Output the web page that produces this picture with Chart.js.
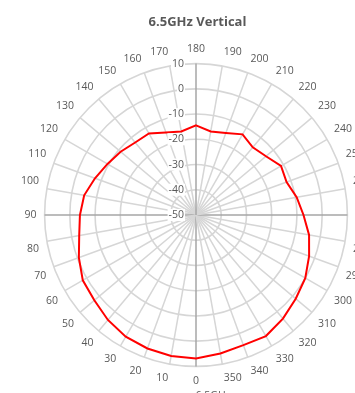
<!DOCTYPE html>
<html>
<head>
<meta charset="utf-8">
<script src="https://cdn.jsdelivr.net/npm/chart.js@4/dist/chart.umd.min.js"></script>
<style>
  html, body { margin: 0; padding: 0; background: #fff; overflow: hidden; }
  #wrap { position: absolute; left: 0; top: 0; width: 395px; height: 411px; }
</style>
</head>
<body>
<div id="wrap"><canvas id="polar" width="395" height="411"></canvas></div>
<script>
// angles, clockwise from the top
const angleLabels = ['180', '190', '200', '210', '220', '230', '240', '250', '260',
  '270', '280', '290', '300', '310', '320', '330', '340', '350',
  '0', '10', '20', '30', '40', '50', '60', '70', '80',
  '90', '100', '110', '120', '130', '140', '150', '160', '170'];

// gain (dB), same order as angleLabels
const gainValues = [-14.5, -16.4, -15.4, -13.1, -15.0, -13.8, -11.1, -11.8, -9.5,
  -7.4, -4.5, -2.3, 0.0, 1.6, 3.6, 5.4, 4.9, 5.7,
  6.9, 6.7, 6.3, 5.7, 4.3, 2.6, 1.8, -0.6, -3.0,
  -4.0, -5.0, -7.4, -9.5, -11.0, -12.5, -12.7, -15.2, -16.4];

const scaleMin = -50;
const scaleMax = 10;
const scaleStep = 10;

const seriesName = '6.5GHz';
const chartTitle = '6.5GHz Vertical';

const textGrey = '#595959';
const labelFont = { family: 'Open Sans', size: 10.5, weight: '500' };

// value axis labels, drawn left of the vertical axis like Excel does
const tickLabels = {
  id: 'tickLabels',
  afterDraw(chart) {
    const r = chart.scales.r;
    const ctx = chart.ctx;
    ctx.save();
    ctx.font = '500 10.5px "Open Sans"';
    ctx.textAlign = 'right';
    ctx.textBaseline = 'middle';
    r.ticks.forEach(t => {
      const y = r.yCenter - r.getDistanceFromCenterForValue(t.value);
      const x = r.xCenter - 12;
      const w = ctx.measureText(String(t.value)).width;
      ctx.fillStyle = '#fff';
      ctx.fillRect(x - w - 1, y - 6, w + 2, 12);
      ctx.fillStyle = textGrey;
      ctx.fillText(String(t.value), x, y);
    });
    ctx.restore();
  }
};

new Chart(document.getElementById('polar'), {
  type: 'radar',
  data: {
    labels: angleLabels,
    datasets: [{
      label: seriesName,
      data: gainValues,
      borderColor: '#ff0000',
      backgroundColor: '#ff0000',
      borderWidth: 2,
      pointRadius: 0,
      fill: false,
      tension: 0
    }]
  },
  options: {
    responsive: false,
    devicePixelRatio: 1,
    animation: false,
    layout: { padding: { top: 4 } },
    plugins: {
      title: {
        display: true,
        text: chartTitle,
        color: textGrey,
        font: { family: 'Open Sans', size: 13, weight: 'bold' },
        padding: { top: 10, bottom: 13.4 }
      },
      legend: {
        position: 'bottom',
        labels: {
          usePointStyle: true,
          pointStyle: 'line',
          pointStyleWidth: 26,
          color: textGrey,
          font: labelFont,
          padding: 3
        }
      },
      tooltip: { enabled: false }
    },
    scales: {
      r: {
        min: scaleMin,
        max: scaleMax,
        ticks: { stepSize: scaleStep, display: false },
        grid: { circular: true, color: '#d6d6d6', lineWidth: 1.6 },
        angleLines: {
          color: c => (c.index % 9 === 0 ? '#a6a6a6' : '#d6d6d6'),
          lineWidth: 1.5
        },
        pointLabels: { color: textGrey, font: labelFont, padding: 8 }
      }
    }
  },
  plugins: [tickLabels]
});
</script>
</body>
</html>
